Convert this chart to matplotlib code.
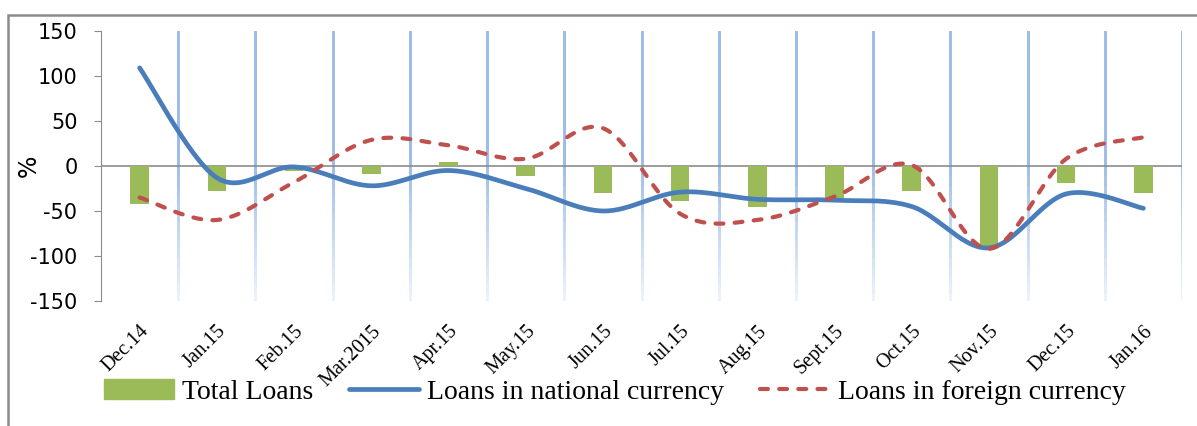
import numpy as np
import matplotlib.pyplot as plt
from matplotlib.patches import Rectangle, Patch
from matplotlib.lines import Line2D
from matplotlib.collections import LineCollection

plt.rcParams["axes.unicode_minus"] = False

months = ["Dec.14", "Jan.15", "Feb.15", "Mar.2015", "Apr.15", "May.15", "Jun.15",
          "Jul.15", "Aug.15", "Sept.15", "Oct.15", "Nov.15", "Dec.15", "Jan.16"]
total_loans = [-42, -28, -5, -9, 5, -11, -30, -39, -46, -35, -28, -91, -19, -30]
national = [109, -13, -1, -22, -5, -25, -50, -29, -37, -38, -45, -91, -31, -47]
foreign = [-35, -60, -18, 29, 23, 8, 42, -53, -60, -34, 1, -92, 8, 32]


def smooth(y, n=30):
    # Excel-style smoothed line (Bezier with Catmull-Rom tangents)
    y = np.asarray(y, dtype=float)
    x = np.arange(len(y), dtype=float)
    px = np.concatenate([[x[0]], x, [x[-1]]])
    py = np.concatenate([[y[0]], y, [y[-1]]])
    xs, ys = [], []
    t = np.linspace(0, 1, n)
    for i in range(len(y) - 1):
        p0 = np.array([x[i], y[i]])
        p3 = np.array([x[i + 1], y[i + 1]])
        p1 = p0 + (np.array([px[i + 2], py[i + 2]]) - np.array([px[i], py[i]])) / 6
        p2 = p3 - (np.array([px[i + 3], py[i + 3]]) - np.array([px[i + 1], py[i + 1]])) / 6
        b = ((1 - t) ** 3)[:, None] * p0 + (3 * (1 - t) ** 2 * t)[:, None] * p1 \
            + (3 * (1 - t) * t ** 2)[:, None] * p2 + (t ** 3)[:, None] * p3
        xs.append(b[:, 0])
        ys.append(b[:, 1])
    return np.concatenate(xs), np.concatenate(ys)


fig = plt.figure(figsize=(11.97, 4.26), dpi=100)
ax = fig.add_axes([101 / 1197, 1 - 301 / 426, (1182 - 101) / 1197, 270 / 426])

x = np.arange(len(months))

# vertical gridlines between categories, fading towards the bottom
grid_rgb = np.array([0.62, 0.74, 0.91])
ys = np.linspace(-150, 150, 31)
segs, cols = [], []
for b in np.arange(0.5, len(months), 1):
    for y0, y1 in zip(ys[:-1], ys[1:]):
        segs.append([(b, y0), (b, y1)])
        a = np.clip(0.2 + 0.8 * (y0 + 150) / 150, 0.2, 1.0)
        cols.append(tuple(1 - a * (1 - grid_rgb)))
ax.add_collection(LineCollection(segs, colors=cols, linewidths=1.8, capstyle="projecting",
                                 antialiaseds=False, zorder=0))

ax.axhline(0, color="#8c8c8c", lw=1.2, zorder=1)

ax.bar(x, total_loans, width=0.24, color="#9bbb59", zorder=2)
sx, sy = smooth(national)
ax.plot(sx, sy, color="#4a7ebb", lw=3.4, solid_capstyle="round", zorder=3)
fx, fy = smooth(foreign)
ax.plot(fx, fy, color="#c0504d", lw=3.0, dashes=(1.9, 2.7), dash_capstyle="round", zorder=4)

ax.set_xlim(-0.5, len(months) - 0.5)
ax.set_ylim(-150, 150)
ax.set_yticks(np.arange(-150, 151, 50))
ax.tick_params(axis="y", direction="out", length=5, color="#8c8c8c", labelsize=15, pad=12)
for lab in ax.get_yticklabels():
    lab.set_family("DejaVu Sans")

ax.set_xticks(x)
ax.set_xticklabels(months, rotation=45, ha="right", rotation_mode="anchor",
                   family="Liberation Serif", fontsize=14.5)
ax.tick_params(axis="x", length=0, pad=15)

for s in ["top", "right", "bottom"]:
    ax.spines[s].set_visible(False)
ax.spines["left"].set_color("#8c8c8c")

ax.set_ylabel("%", fontsize=17, family="DejaVu Sans")
ax.yaxis.set_label_coords((41 - 101) / 1081, 0.5)

handles = [Patch(color="#9bbb59"),
           Line2D([], [], color="#4a7ebb", lw=3.4, solid_capstyle="round"),
           Line2D([], [], color="#c0504d", lw=3.0, dashes=(1.9, 2.7), dash_capstyle="round")]
labels = ["Total Loans", "Loans in national currency", "Loans in foreign currency"]
fig.legend(handles, labels, loc="center", bbox_to_anchor=(615 / 1197, 1 - 392 / 426), ncol=3,
           frameon=False, handlelength=2.5, handletextpad=0.3, columnspacing=1.3,
           prop={"family": "Liberation Serif", "size": 20})

fig.add_artist(Rectangle((8 / 1197, -0.1), 1.2, 1.1 - 15 / 426, transform=fig.transFigure,
                         fill=False, edgecolor="#8c8c8c", lw=1.8))

fig.savefig("out.png", dpi=100)
